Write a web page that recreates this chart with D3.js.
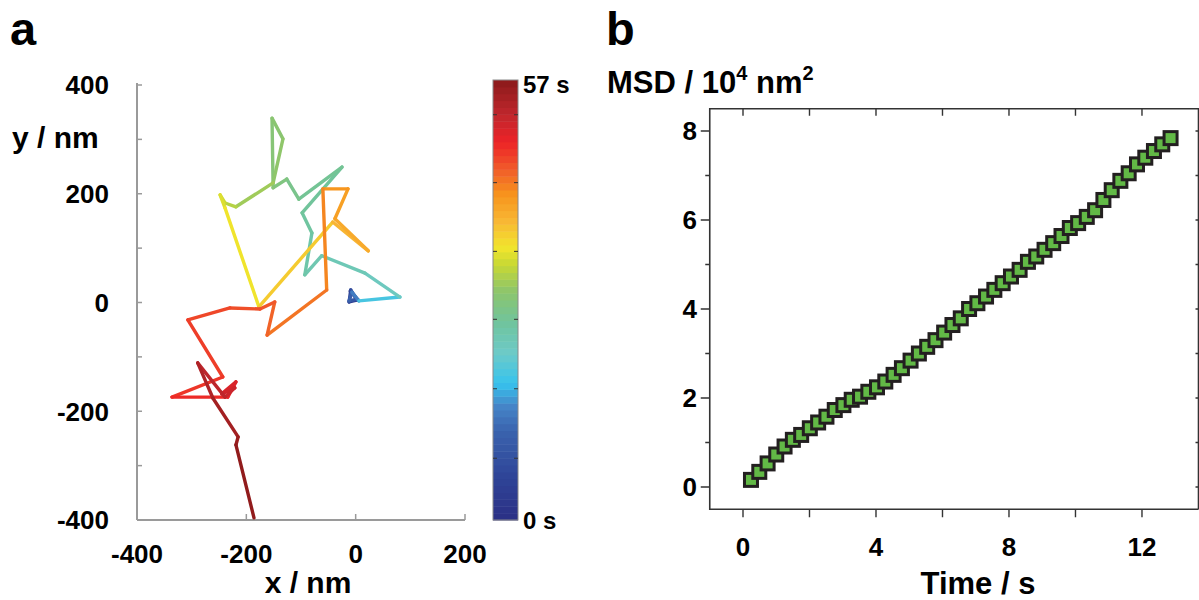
<!DOCTYPE html>
<html>
<head>
<meta charset="utf-8">
<script src="https://cdn.jsdelivr.net/npm/d3@7/dist/d3.min.js"></script>
<style>
	body{margin:0;background:#fff;}
	svg{display:block;font-family:'Liberation Sans',Arial,Helvetica,sans-serif;font-weight:bold;}
</style>
</head>
<body>
<div id="chart"></div>
<script>
// trajectory (nm) and the time of every point (s)
var trackX = [-10, 4, -12, -9, 2, -12, -7, 6, 81, 17, -62, -93, -80, -98, -25, -104, -126, -151, -153, -133, -151, -219, -239, -248, -239, -177, -42, 23, -38, -14, -60, -53, -162, -148, -175, -230, -307, -243, -336, -234, -219, -245, -221, -239, -289, -261, -215, -219, -186];
var trackY = [21, 5, 1, 23, 6, 3, 19, 3, 10, 54, 86, 51, 128, 165, 249, 190, 227, 211, 339, 301, 220, 176, 183, 198, 174, -8, 148, 95, 154, 209, 209, 23, -60, 1, -12, -10, -32, -137, -174, -174, -146, -168, -157, -174, -111, -176, -247, -262, -396];
var trackT = [0, 2, 4, 6, 8, 10, 12, 16, 22, 23, 23.5, 24, 25, 25.5, 26, 26.5, 27.5, 28.5, 29, 29.5, 30, 31.5, 32.5, 34, 34.5, 36, 38.5, 39.5, 40.5, 41.5, 42.5, 43.5, 44.5, 45.5, 46, 46.5, 47, 47.5, 48, 49, 50, 51, 51.5, 52, 53.5, 54.5, 55.5, 56, 57];

var xTicksA = [-400, -200, 0, 200];
var yTicksA = [-400, -200, 0, 200, 400];
var cbarTicks = [8, 17, 26, 34.8, 43.7, 52.5];
var cbarStops = [0, 0.1, 0.2, 0.26, 0.31, 0.38, 0.45, 0.52, 0.58, 0.62, 0.68, 0.74, 0.8, 0.86, 0.92, 1];
var cbarColors = ['#2b2f84', '#2f4598', '#3a62ad', '#4585c8', '#36c3ee', '#6dcac8', '#70c49c', '#8dc56c', '#c7d834', '#f2e52c', '#f8b734', '#f7941d', '#f0592a', '#ec2227', '#c1272d', '#8b1a1a'];

// MSD curve
var msdTime = [0.24, 0.49, 0.74, 1.00, 1.25, 1.50, 1.75, 2.01, 2.26, 2.51, 2.76, 3.02, 3.27, 3.52, 3.77, 4.03, 4.28, 4.53, 4.78, 5.04, 5.29, 5.54, 5.79, 6.05, 6.30, 6.55, 6.80, 7.05, 7.31, 7.56, 7.81, 8.06, 8.32, 8.57, 8.82, 9.07, 9.33, 9.58, 9.83, 10.08, 10.34, 10.59, 10.84, 11.09, 11.35, 11.60, 11.85, 12.10, 12.36, 12.61, 12.86];
var msdValue = [0.16, 0.34, 0.53, 0.73, 0.91, 1.06, 1.17, 1.32, 1.45, 1.58, 1.73, 1.84, 1.96, 2.03, 2.14, 2.24, 2.37, 2.52, 2.67, 2.84, 3.00, 3.15, 3.30, 3.47, 3.64, 3.79, 4.00, 4.13, 4.28, 4.43, 4.58, 4.73, 4.88, 5.06, 5.18, 5.33, 5.48, 5.64, 5.82, 5.93, 6.07, 6.22, 6.45, 6.67, 6.88, 7.05, 7.25, 7.40, 7.55, 7.70, 7.84];
var xTicksB = [0, 2, 4, 6, 8, 10, 12];
var xLabelsB = [0, 4, 8, 12];
var yTicksB = [0, 1, 2, 3, 4, 5, 6, 7, 8];
var yLabelsB = [0, 2, 4, 6, 8];

var svg = d3.select('#chart')
	.append('svg')
	.attr('width', 1199)
	.attr('height', 600);

// ---------- panel a ----------
var xa = d3.scaleLinear().domain([-400, 200]).range([137, 465]);
var ya = d3.scaleLinear().domain([-400, 400]).range([520, 85]);
var color = d3.scaleLinear()
	.domain(cbarStops.map(function(s){ return s * 57; }))
	.range(cbarColors)
	.clamp(true);

var ga = svg.append('g');
ga.append('text').text('a')
	.attr('x', 10).attr('y', 45)
	.attr('font-size', 47);

ga.append('line')
	.attr('x1', xa(-400)).attr('x2', xa(-400))
	.attr('y1', ya(400) - 2).attr('y2', ya(-400))
	.attr('stroke', '#9a9a9a').attr('stroke-width', 2);
ga.append('line')
	.attr('x1', xa(-400)).attr('x2', xa(200))
	.attr('y1', ya(-400)).attr('y2', ya(-400))
	.attr('stroke', '#9a9a9a').attr('stroke-width', 2);
ga.selectAll('.ytk').data(d3.range(-400, 401, 100)).enter()
	.append('line')
	.attr('x1', xa(-400)).attr('x2', xa(-400) + 5)
	.attr('y1', function(d){ return ya(d); })
	.attr('y2', function(d){ return ya(d); })
	.attr('stroke', '#9a9a9a').attr('stroke-width', 1.5);
ga.selectAll('.xtk').data(xTicksA).enter()
	.append('line')
	.attr('x1', function(d){ return xa(d); })
	.attr('x2', function(d){ return xa(d); })
	.attr('y1', ya(-400)).attr('y2', ya(-400) - 6)
	.attr('stroke', '#9a9a9a').attr('stroke-width', 1.5);
ga.selectAll('.ylab').data(yTicksA).enter()
	.append('text')
	.text(function(d){ return d; })
	.attr('x', 109)
	.attr('y', function(d){ return ya(d); })
	.attr('dy', '0.36em')
	.attr('text-anchor', 'end')
	.attr('font-size', 26);
ga.selectAll('.xlab').data(xTicksA).enter()
	.append('text')
	.text(function(d){ return d; })
	.attr('x', function(d){ return xa(d); })
	.attr('y', 563)
	.attr('text-anchor', 'middle')
	.attr('font-size', 26);
ga.append('text').text('y / nm')
	.attr('x', 12).attr('y', 148)
	.attr('font-size', 30);
ga.append('text').text('x / nm')
	.attr('x', 308).attr('y', 593)
	.attr('text-anchor', 'middle')
	.attr('font-size', 30);

// trajectory, one segment per step, coloured by time
var segs = d3.range(trackT.length - 1);
ga.append('g')
	.selectAll('line').data(segs).enter()
	.append('line')
	.attr('x1', function(i){ return xa(trackX[i]); })
	.attr('y1', function(i){ return ya(trackY[i]); })
	.attr('x2', function(i){ return xa(trackX[i + 1]); })
	.attr('y2', function(i){ return ya(trackY[i + 1]); })
	.attr('stroke', function(i){ return color((trackT[i] + trackT[i + 1]) / 2); })
	.attr('stroke-width', 3.4)
	.attr('stroke-linecap', 'round')
	.attr('stroke-linejoin', 'round');

// colour bar
var cb = d3.scaleLinear().domain([0, 57]).range([520, 80]);
var bands = 64;
ga.append('g')
	.selectAll('rect').data(d3.range(bands)).enter()
	.append('rect')
	.attr('x', 493)
	.attr('width', 25)
	.attr('y', function(i){ return cb((i + 1) * 57 / bands); })
	.attr('height', cb(0) - cb(57 / bands) + 0.5)
	.attr('fill', function(i){ return color((i + 0.5) * 57 / bands); });
ga.append('rect')
	.attr('x', 493).attr('y', 80).attr('width', 25).attr('height', 440)
	.attr('fill', 'none').attr('stroke', '#8a8a8a').attr('stroke-width', 1);
ga.selectAll('.cbt').data(cbarTicks).enter()
	.append('path')
	.attr('d', function(d){ var y = cb(d); return 'M493,' + y + 'h4M518,' + y + 'h-4'; })
	.attr('stroke', '#333').attr('stroke-width', 1);
ga.append('text').text('57 s')
	.attr('x', 523).attr('y', 93)
	.attr('font-size', 24);
ga.append('text').text('0 s')
	.attr('x', 523).attr('y', 529)
	.attr('font-size', 24);

// ---------- panel b ----------
var xb = d3.scaleLinear().domain([-1, 13.7]).range([709.75, 1198.5]);
var yb = d3.scaleLinear().domain([-0.5, 8.5]).range([509.25, 108.75]);
var gb = svg.append('g');
gb.append('text').text('b')
	.attr('x', 606).attr('y', 45)
	.attr('font-size', 47);

gb.append('path')
	.attr('d', 'M' + xb.range()[1] + ',' + yb.range()[0] + 'H' + xb.range()[0] + 'V' + yb.range()[1] + 'H' + xb.range()[1] + 'V' + yb.range()[0])
	.attr('fill', 'none')
	.attr('stroke', '#333').attr('stroke-width', 1.6);
gb.selectAll('.bx').data(xTicksB).enter()
	.append('path')
	.attr('d', function(d){ var x = xb(d); return 'M' + x + ',' + yb.range()[0] + 'v8M' + x + ',' + yb.range()[1] + 'v7'; })
	.attr('stroke', '#333').attr('stroke-width', 1.4);
gb.selectAll('.by').data(yTicksB).enter()
	.append('path')
	.attr('d', function(d){
		var y = yb(d), l = d % 2 === 0 ? 9 : 4.5;
		return 'M' + xb.range()[0] + ',' + y + 'h' + (-l) + 'M' + xb.range()[1] + ',' + y + 'h-3';
	})
	.attr('stroke', '#333').attr('stroke-width', 1.4);
gb.selectAll('.bxl').data(xLabelsB).enter()
	.append('text')
	.text(function(d){ return d; })
	.attr('x', function(d){ return xb(d); })
	.attr('y', 556)
	.attr('text-anchor', 'middle')
	.attr('font-size', 26);
gb.selectAll('.byl').data(yLabelsB).enter()
	.append('text')
	.text(function(d){ return d; })
	.attr('x', 697)
	.attr('y', function(d){ return yb(d); })
	.attr('dy', '0.36em')
	.attr('text-anchor', 'end')
	.attr('font-size', 26);

var title = gb.append('text')
	.attr('x', 607).attr('y', 93)
	.attr('font-size', 31);
title.append('tspan').text('MSD / 10');
title.append('tspan').text('4').attr('font-size', 20).attr('dy', -13);
title.append('tspan').text(' nm').attr('dy', 13);
title.append('tspan').text('2').attr('font-size', 20).attr('dy', -13);
gb.append('text').text('Time / s')
	.attr('x', 978).attr('y', 594)
	.attr('text-anchor', 'middle')
	.attr('font-size', 31);

gb.append('g')
	.selectAll('rect').data(d3.range(msdTime.length)).enter()
	.append('rect')
	.attr('x', function(i){ return xb(msdTime[i]) - 6.5; })
	.attr('y', function(i){ return yb(msdValue[i]) - 6.5; })
	.attr('width', 13)
	.attr('height', 13)
	.attr('fill', '#62b946')
	.attr('stroke', '#231f20')
	.attr('stroke-width', 3);
</script>
</body>
</html>
